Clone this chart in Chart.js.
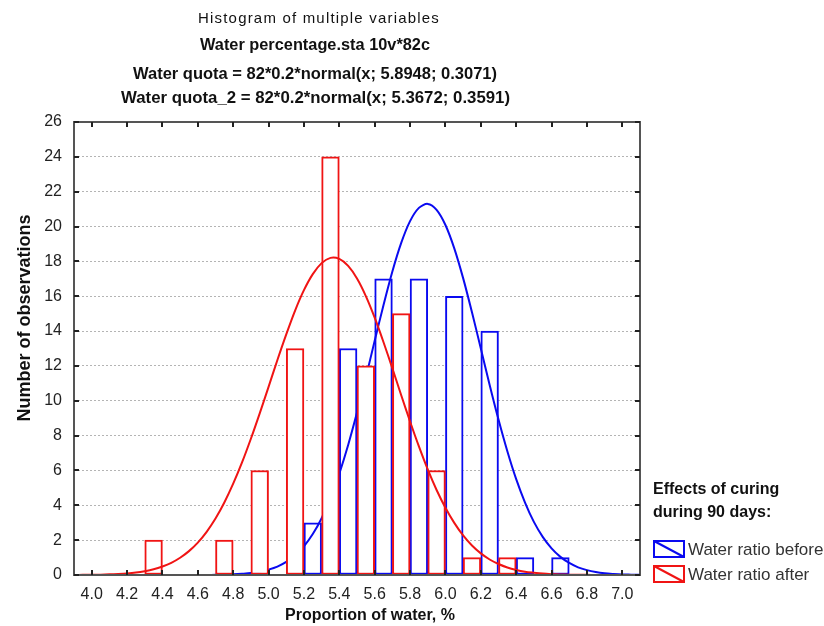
<!DOCTYPE html>
<html>
<head>
<meta charset="utf-8">
<script src="https://cdn.jsdelivr.net/npm/chart.js@4.4.1/dist/chart.umd.min.js"></script>
<style>
  html, body { margin: 0; padding: 0; background: #fff; }
  #wrap { position: relative; width: 824px; height: 626px; }
</style>
</head>
<body>
<div id="wrap"><canvas id="histChart"></canvas></div>
<script>
// histogram bins (centre of each 0.2 wide class)
const binCenters = [4.4, 4.6, 4.8, 5.0, 5.2, 5.4, 5.6, 5.8, 6.0, 6.2, 6.4, 6.6];
const countsBefore = [null, null, null, null, 3, 13, 17, 17, 16, 14, 1, 1];
const countsAfter = [2, null, 2, 6, 13, 24, 12, 15, 6, 1, 1, null];

// fitted normal curves
const curveX = [3.90, 3.95, 4.00, 4.05, 4.10, 4.15, 4.20, 4.25, 4.30, 4.35, 4.40, 4.45, 4.50, 4.55, 4.60, 4.65,
  4.70, 4.75, 4.80, 4.85, 4.90, 4.95, 5.00, 5.05, 5.10, 5.15, 5.20, 5.25, 5.30, 5.35, 5.40, 5.45, 5.50,
  5.55, 5.60, 5.65, 5.70, 5.75, 5.80, 5.85, 5.90, 5.95, 6.00, 6.05, 6.10, 6.15, 6.20, 6.25, 6.30, 6.35,
  6.40, 6.45, 6.50, 6.55, 6.60, 6.65, 6.70, 6.75, 6.80, 6.85, 6.90, 6.95, 7.00, 7.05, 7.10];
const fitBefore = [0, 0, 0, 0, 0, 0, 0, 0, 0, 0, 0, 0, 0, 0, 0, 0,
  0.01, 0.02, 0.04, 0.07, 0.11, 0.19, 0.31, 0.48, 0.75, 1.13, 1.65, 2.35, 3.26, 4.42, 5.82, 7.46, 9.32,
  11.34, 13.44, 15.50, 17.42, 19.06, 20.31, 21.07, 21.30, 20.96, 20.09, 18.75, 17.04, 15.08, 13.00, 10.91, 8.92, 7.10,
  5.50, 4.16, 3.05, 2.19, 1.53, 1.04, 0.69, 0.44, 0.28, 0.17, 0.10, 0.06, 0.03, 0.02, 0.01];
const fitAfter = [0, 0.01, 0.01, 0.02, 0.04, 0.06, 0.09, 0.14, 0.22, 0.33, 0.49, 0.70, 0.99, 1.37, 1.86, 2.48,
  3.24, 4.16, 5.24, 6.46, 7.82, 9.28, 10.80, 12.34, 13.81, 15.18, 16.35, 17.27, 17.90, 18.20, 18.14, 17.74, 17.02,
  16.01, 14.77, 13.36, 11.86, 10.32, 8.81, 7.38, 6.06, 4.88, 3.86, 2.99, 2.27, 1.69, 1.24, 0.89, 0.63, 0.43,
  0.29, 0.19, 0.13, 0.08, 0.05, 0.03, 0.02, 0.01, 0.01, 0, 0, 0, 0, 0, 0];

const xTicks = [4.0, 4.2, 4.4, 4.6, 4.8, 5.0, 5.2, 5.4, 5.6, 5.8, 6.0, 6.2, 6.4, 6.6, 6.8, 7.0];
const yTicks = [0, 2, 4, 6, 8, 10, 12, 14, 16, 18, 20, 22, 24, 26];

const titleLines = [
  'Histogram of multiple variables',
  'Water percentage.sta 10v*82c',
  'Water quota = 82*0.2*normal(x; 5.8948; 0.3071)',
  'Water quota_2 = 82*0.2*normal(x; 5.3672; 0.3591)'
];
const legendTitle = ['Effects of curing', 'during 90 days:'];

const BLUE = '#0a0af0';
const RED = '#f01414';
const FONT = "'Liberation Sans', Arial, sans-serif";

Chart.defaults.font.family = FONT;

const toPoints = (xs, ys) => xs.map((x, i) => ({ x, y: ys[i] }));

// draw a text line stretched to a given width
function fitText(ctx, text, cx, cy, font, width, spacing) {
  ctx.save();
  ctx.font = font;
  ctx.letterSpacing = spacing || '0px';
  const w = ctx.measureText(text).width;
  ctx.translate(cx, cy);
  ctx.scale(width / w, 1);
  ctx.textAlign = 'center';
  ctx.textBaseline = 'middle';
  ctx.fillText(text, 0, 0);
  ctx.restore();
}

const decor = {
  id: 'decor',
  afterDatasetsDraw(chart) {
    const { ctx, chartArea: a, scales: { x, y } } = chart;
    ctx.save();
    ctx.strokeStyle = '#555';
    ctx.lineWidth = 2;
    ctx.strokeRect(a.left, a.top, a.right - a.left, a.bottom - a.top);
    ctx.strokeStyle = '#222';
    ctx.beginPath();
    x.ticks.forEach(t => {
      const px = Math.round(x.getPixelForValue(t.value));
      ctx.moveTo(px, a.top); ctx.lineTo(px, a.top + 5);
      ctx.moveTo(px, a.bottom); ctx.lineTo(px, a.bottom - 5);
    });
    y.ticks.forEach(t => {
      const py = Math.round(y.getPixelForValue(t.value));
      ctx.moveTo(a.left, py); ctx.lineTo(a.left + 5, py);
      ctx.moveTo(a.right, py); ctx.lineTo(a.right - 5, py);
    });
    ctx.stroke();
    ctx.restore();
  },
  afterDraw(chart) {
    const ctx = chart.ctx;
    ctx.save();
    ctx.fillStyle = '#111';

    // titles
    fitText(ctx, titleLines[0], 319, 19, '15px ' + FONT, 242, '1.2px');
    fitText(ctx, titleLines[1], 315, 46, 'bold 16px ' + FONT, 230);
    fitText(ctx, titleLines[2], 315, 75, 'bold 16px ' + FONT, 364);
    fitText(ctx, titleLines[3], 315.5, 99, 'bold 16px ' + FONT, 389);

    // axis titles
    ctx.font = 'bold 16px ' + FONT;
    ctx.textAlign = 'center';
    ctx.textBaseline = 'middle';
    ctx.fillText('Proportion of water, %', 370, 616);
    ctx.save();
    ctx.translate(25, 318);
    ctx.rotate(-Math.PI / 2);
    ctx.font = 'bold 18px ' + FONT;
    ctx.fillText('Number of observations', 0, 0);
    ctx.restore();

    // legend
    ctx.textAlign = 'left';
    ctx.font = 'bold 16px ' + FONT;
    ctx.fillText(legendTitle[0], 653, 490);
    ctx.fillText(legendTitle[1], 653, 513);

    const items = chart.data.datasets.filter(d => d.type === 'bar')
      .sort((a, b) => b.order - a.order);
    items.forEach((d, i) => {
      const top = 541 + i * 25;
      ctx.strokeStyle = d.borderColor;
      ctx.lineWidth = 2;
      ctx.strokeRect(654, top, 30, 16);
      ctx.beginPath();
      ctx.moveTo(654, top);
      ctx.lineTo(684, top + 16);
      ctx.stroke();
      ctx.fillStyle = '#333';
      ctx.font = '17px ' + FONT;
      ctx.fillText(d.label, 688, top + 9);
    });
    ctx.restore();
  }
};

const data = {
  datasets: [
    {
      type: 'line',
      label: 'Water quota_2',
      data: toPoints(curveX, fitAfter),
      borderColor: RED,
      borderWidth: 2,
      pointRadius: 0,
      tension: 0.3,
      fill: false,
      order: 0
    },
    {
      type: 'bar',
      label: 'Water ratio after',
      data: toPoints(binCenters, countsAfter),
      backgroundColor: '#ffffff',
      borderColor: RED,
      borderWidth: 2,
      borderSkipped: false,
      barPercentage: 1,
      categoryPercentage: 1,
      order: 1
    },
    {
      type: 'line',
      label: 'Water quota',
      data: toPoints(curveX, fitBefore),
      borderColor: BLUE,
      borderWidth: 2,
      pointRadius: 0,
      tension: 0.3,
      fill: false,
      order: 2
    },
    {
      type: 'bar',
      label: 'Water ratio before',
      data: toPoints(binCenters, countsBefore),
      backgroundColor: '#ffffff',
      borderColor: BLUE,
      borderWidth: 2,
      borderSkipped: false,
      barPercentage: 1,
      categoryPercentage: 1,
      order: 3
    }
  ]
};

new Chart(document.getElementById('histChart'), {
  type: 'bar',
  data,
  plugins: [decor],
  options: {
    responsive: true,
    maintainAspectRatio: false,
    animation: false,
    events: [],
    layout: { padding: { top: 122, right: 184, left: 0, bottom: 0 } },
    plugins: {
      legend: { display: false },
      tooltip: { enabled: false }
    },
    scales: {
      x: {
        type: 'linear',
        min: 3.9,
        max: 7.1,
        offset: false,
        afterBuildTicks: (s) => { s.ticks = xTicks.map(v => ({ value: v })); },
        afterFit: (s) => { s.height = 51; },
        grid: { display: false, offset: false },
        border: { display: false },
        ticks: {
          padding: 2,
          color: '#222',
          font: { size: 16 },
          maxRotation: 0,
          autoSkip: false,
          callback: (v) => v.toFixed(1)
        }
      },
      y: {
        min: 0,
        max: 26,
        afterBuildTicks: (s) => { s.ticks = yTicks.map(v => ({ value: v })); },
        afterFit: (s) => { s.width = 74; },
        grid: { color: '#b4b4b4', drawTicks: false },
        border: { display: false, dash: [2, 2] },
        ticks: {
          padding: 12,
          color: '#222',
          font: { size: 16 }
        }
      }
    }
  }
});
</script>
</body>
</html>
